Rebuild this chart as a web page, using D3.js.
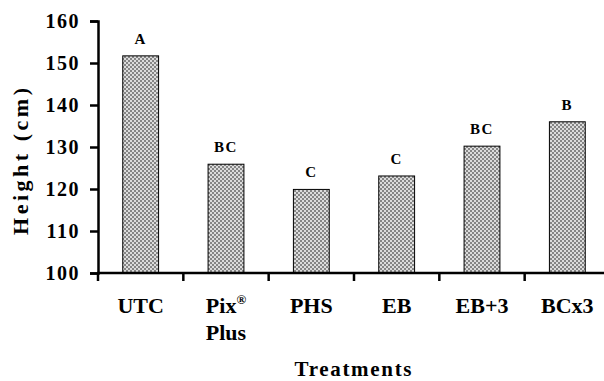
<!DOCTYPE html>
<html>
<head>
<meta charset="utf-8">
<script src="https://cdn.jsdelivr.net/npm/d3@7"></script>
<style>
  body { margin: 0; background: #fff; }
  svg text { font-family: "Liberation Serif", "Times New Roman", "DejaVu Serif", serif; font-weight: bold; fill: #000; }
</style>
</head>
<body>
<svg id="chart" width="604" height="381"></svg>
<script>
var treatments = ["UTC", "Pix", "PHS", "EB", "EB+3", "BCx3"];
var heights = [151.7, 125.9, 119.9, 123.1, 130.2, 136.0];
var groups = ["A", "BC", "C", "C", "BC", "B"];
var yTicks = [100, 110, 120, 130, 140, 150, 160];

var svg = d3.select("#chart");

var x = d3.scaleBand().domain(treatments).range([98, 610]).paddingInner(0.58).paddingOuter(0.29);
var y = d3.scaleLinear().domain([100, 160]).range([273, 21]);

// checker fill for the bars
var defs = svg.append("defs");
var pat = defs.append("pattern")
    .attr("id", "dots")
    .attr("width", 4).attr("height", 4)
    .attr("patternUnits", "userSpaceOnUse");
pat.append("rect").attr("width", 4).attr("height", 4).attr("fill", "#dcdcdc");
pat.append("rect").attr("width", 2).attr("height", 2).attr("fill", "#858585");
pat.append("rect").attr("x", 2).attr("y", 2).attr("width", 2).attr("height", 2).attr("fill", "#858585");

svg.selectAll("rect.bar")
    .data(heights)
    .enter().append("rect")
    .attr("class", "bar")
    .attr("x", function(d, i) { return x(treatments[i]); })
    .attr("y", function(d) { return y(d); })
    .attr("width", x.bandwidth())
    .attr("height", function(d) { return y(100) - y(d); })
    .attr("fill", "url(#dots)")
    .attr("stroke", "#000")
    .attr("stroke-width", 1);

// significance letters
svg.selectAll("text.grp")
    .data(groups)
    .enter().append("text")
    .attr("class", "grp")
    .attr("x", function(d, i) { return x(treatments[i]) + x.bandwidth() / 2; })
    .attr("y", function(d, i) { return y(heights[i]) - 12; })
    .attr("text-anchor", "middle")
    .style("font-size", "15px")
    .style("letter-spacing", "1.5px")
    .text(function(d) { return d; });

// y axis
var yAxis = svg.append("g")
    .attr("transform", "translate(98,0)")
    .call(d3.axisLeft(y).tickValues(yTicks).tickSize(8).tickPadding(10));
yAxis.attr("font-family", null);
yAxis.select(".domain").attr("stroke-width", 2.5);
yAxis.selectAll(".tick line").attr("stroke-width", 2.5);
yAxis.selectAll(".tick text")
    .style("font-size", "20px")
    .style("letter-spacing", "1.5px");

// x axis: ticks sit between the categories
var xAxis = svg.append("g").attr("transform", "translate(0,273)");
xAxis.append("line")
    .attr("x1", 97).attr("x2", 610)
    .attr("stroke", "#000").attr("stroke-width", 2.5);
var edges = treatments.map(function(t) { return x(t) - x.step() * x.paddingInner() / 2; });
xAxis.selectAll("line.tk")
    .data(edges)
    .enter().append("line")
    .attr("class", "tk")
    .attr("x1", function(d) { return d; }).attr("x2", function(d) { return d; })
    .attr("y1", 0).attr("y2", 8)
    .attr("stroke", "#000").attr("stroke-width", 2.5);

var labels = xAxis.selectAll("text.cat")
    .data(treatments)
    .enter().append("text")
    .attr("class", "cat")
    .attr("x", function(d) { return x(d) + x.bandwidth() / 2; })
    .attr("y", 40)
    .attr("text-anchor", "middle")
    .style("font-size", "22px");
labels.each(function(d) {
    var t = d3.select(this);
    if (d === "Pix") {
        t.append("tspan").text("Pix");
        t.append("tspan").attr("dy", -9).style("font-size", "13px").text("\u00AE");
        t.append("tspan").attr("x", x(d) + x.bandwidth() / 2).attr("dy", 36).text("Plus");
    } else {
        t.text(d);
    }
});

// axis titles
svg.append("text")
    .attr("transform", "translate(28,161.5) rotate(-90)")
    .attr("text-anchor", "middle")
    .attr("textLength", 147)
    .attr("lengthAdjust", "spacing")
    .style("font-size", "22px")
    .text("Height (cm)");

svg.append("text")
    .attr("x", 353).attr("y", 376)
    .attr("text-anchor", "middle")
    .attr("textLength", 117)
    .attr("lengthAdjust", "spacing")
    .style("font-size", "21px")
    .text("Treatments");
</script>
</body>
</html>
